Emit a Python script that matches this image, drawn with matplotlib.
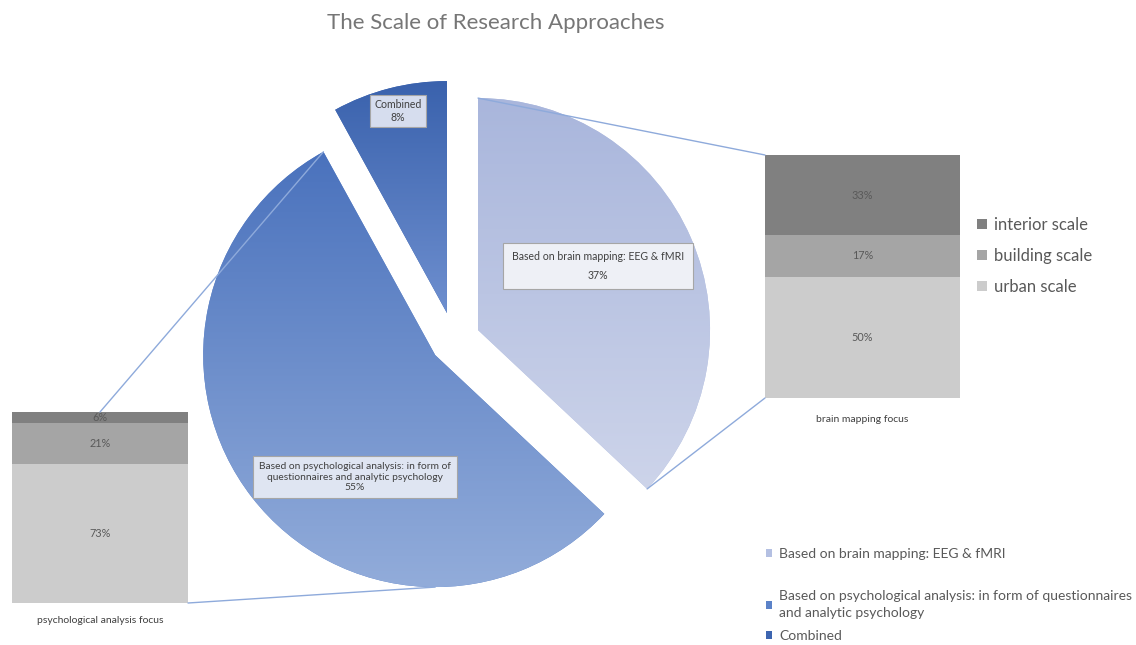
import numpy as np
import matplotlib
matplotlib.use('Agg')
import matplotlib.pyplot as plt
from matplotlib.colors import LinearSegmentedColormap
from matplotlib.patches import ConnectionPatch

plt.rcParams['font.family'] = ['Lato', 'DejaVu Sans']

# ===== DATOS =====
titulo = "The Scale of Research Approaches"
enfoques = ["Based on brain mapping: EEG & fMRI",
            "Based on psychological analysis: in form of questionnaires\nand analytic psychology",
            "Combined"]
etiquetas_pie = ["Based on brain mapping: EEG & fMRI",
                 "Based on psychological analysis: in form of\nquestionnaires and analytic psychology",
                 "Combined"]
porcentajes = [37, 55, 8]

escalas = ["urban scale", "building scale", "interior scale"]
psico = [73, 21, 6]      # psychological analysis focus
cerebro = [50, 17, 33]   # brain mapping focus
nombre_psico = "psychological analysis focus"
nombre_cerebro = "brain mapping focus"

# ===== ESTILO =====
W, H = 1136, 645
gris_texto = '#595959'
colores_escala = ['#cccccc', '#a5a5a5', '#808080']
colores_pie = ['#b4c0e2', '#5b82c8', '#3d65b0']
# (abajo, arriba) para el degradado de cada porcion
degradados = [('#cdd4ea', '#a9b6dc'),
              ('#92acda', '#4a72bd'),
              ('#6e8fcf', '#3a62ad')]
linea_azul = '#8eaadb'

fig = plt.figure(figsize=(W / 100, H / 100), dpi=100)
ax = fig.add_axes([0, 0, 1, 1])

# ===== PIE =====
wedges, _ = ax.pie(porcentajes, startangle=90, counterclock=False,
                   radius=232, center=(454, H - 340.5),
                   explode=[26.2, 23.8, 28.3],
                   colors=colores_pie,
                   wedgeprops=dict(linewidth=0))

grad = np.linspace(0, 1, 256).reshape(-1, 1)
for w, (c_bajo, c_alto) in zip(wedges, degradados):
    ext = w.get_path().get_extents()
    cmap = LinearSegmentedColormap.from_list('g', [c_bajo, c_alto])
    im = ax.imshow(grad, extent=[ext.x0, ext.x1, ext.y0, ext.y1], origin='lower',
                   cmap=cmap, aspect='auto', zorder=w.get_zorder() + 0.1)
    im.set_clip_path(w)

caja = dict(boxstyle='square,pad=0.6', edgecolor='#a6a6a6', linewidth=0.8)
ax.text(598, H - 266, f"{etiquetas_pie[0]}\n{porcentajes[0]}%", ha='center', va='center',
        fontsize=7.6, color='#404040', zorder=5, linespacing=1.9,
        bbox=dict(caja, facecolor='#eef0f6', boxstyle='square,pad=0.8'))
ax.text(355, H - 477, f"{etiquetas_pie[1]}\n{porcentajes[1]}%", ha='center', va='center',
        fontsize=7.4, color='#404040', zorder=5,
        bbox=dict(caja, facecolor='#dfe5f2'))
ax.text(398, H - 111, f"{etiquetas_pie[2]}\n{porcentajes[2]}%", ha='center', va='center',
        fontsize=7.6, color='#404040', zorder=5,
        bbox=dict(caja, facecolor='#d6ddee', boxstyle='square,pad=0.4'))

ax.set_xlim(0, W)
ax.set_ylim(0, H)
ax.set_aspect('auto')
ax.axis('off')

ax.text(496, H - 23, titulo, ha='center', va='center', fontsize=16, color='#767676')

# ===== BARRAS =====
def barra(rect, valores, nombre):
    axb = fig.add_axes(rect)
    acum = 0
    barras = []
    for v, c in zip(valores, colores_escala):
        b = axb.bar(0, v, width=1, bottom=acum, color=c, linewidth=0)
        barras.append(b)
        axb.text(0, acum + v / 2, f"{v}%", ha='center', va='center',
                 fontsize=7.8, color=gris_texto)
        acum += v
    axb.set_xlim(-0.5, 0.5)
    axb.set_ylim(0, 100)
    axb.axis('off')
    axb.text(0.5, -0.07, nombre, transform=axb.transAxes, ha='center', va='top',
             fontsize=7.5, color='#404040')
    return axb, barras

ax_p, _ = barra([12 / W, (H - 603) / H, 176 / W, 191 / H], psico, nombre_psico)
ax_c, barras_c = barra([765 / W, (H - 398) / H, 195 / W, 243 / H], cerebro, nombre_cerebro)

# ===== LINEAS DE CONEXION =====
def punto(w, ang):
    cx, cy = w.center
    return (cx + w.r * np.cos(np.radians(ang)), cy + w.r * np.sin(np.radians(ang)))

w_cer, w_psi = wedges[0], wedges[1]
for pA, axb, pB in [(punto(w_cer, w_cer.theta2), ax_c, (0, 1)),
                    (punto(w_cer, w_cer.theta1), ax_c, (0, 0)),
                    (punto(w_psi, w_psi.theta1), ax_p, (0.5, 1)),
                    (punto(w_psi, -90), ax_p, (1, 0))]:
    con = ConnectionPatch(xyA=pA, coordsA=ax.transData, xyB=pB, coordsB=axb.transAxes,
                          color=linea_azul, linewidth=1.0)
    fig.add_artist(con)

# ===== LEYENDAS =====
fig.legend([b[0] for b in barras_c[::-1]], escalas[::-1], loc='upper left',
           bbox_to_anchor=(962 / W, 1 - 202 / H), frameon=False, fontsize=12,
           labelcolor=gris_texto, handlelength=0.6, handleheight=0.6,
           handletextpad=0.4, labelspacing=0.9)

fig.legend(wedges[:1], enfoques[:1], loc='upper left',
           bbox_to_anchor=(753 / W, 1 - 535 / H), frameon=False, fontsize=10,
           labelcolor=gris_texto, handlelength=0.5, handleheight=0.5,
           handletextpad=0.5)
leg = fig.legend(wedges[1:], enfoques[1:], loc='upper left',
                 bbox_to_anchor=(753 / W, 1 - 578 / H), frameon=False, fontsize=10,
                 labelcolor=gris_texto, handlelength=0.5, handleheight=0.5,
                 handletextpad=0.5, labelspacing=0.8)
for t in leg.get_texts():
    t.set_linespacing(1.45)

fig.savefig('out.png', dpi=100)
